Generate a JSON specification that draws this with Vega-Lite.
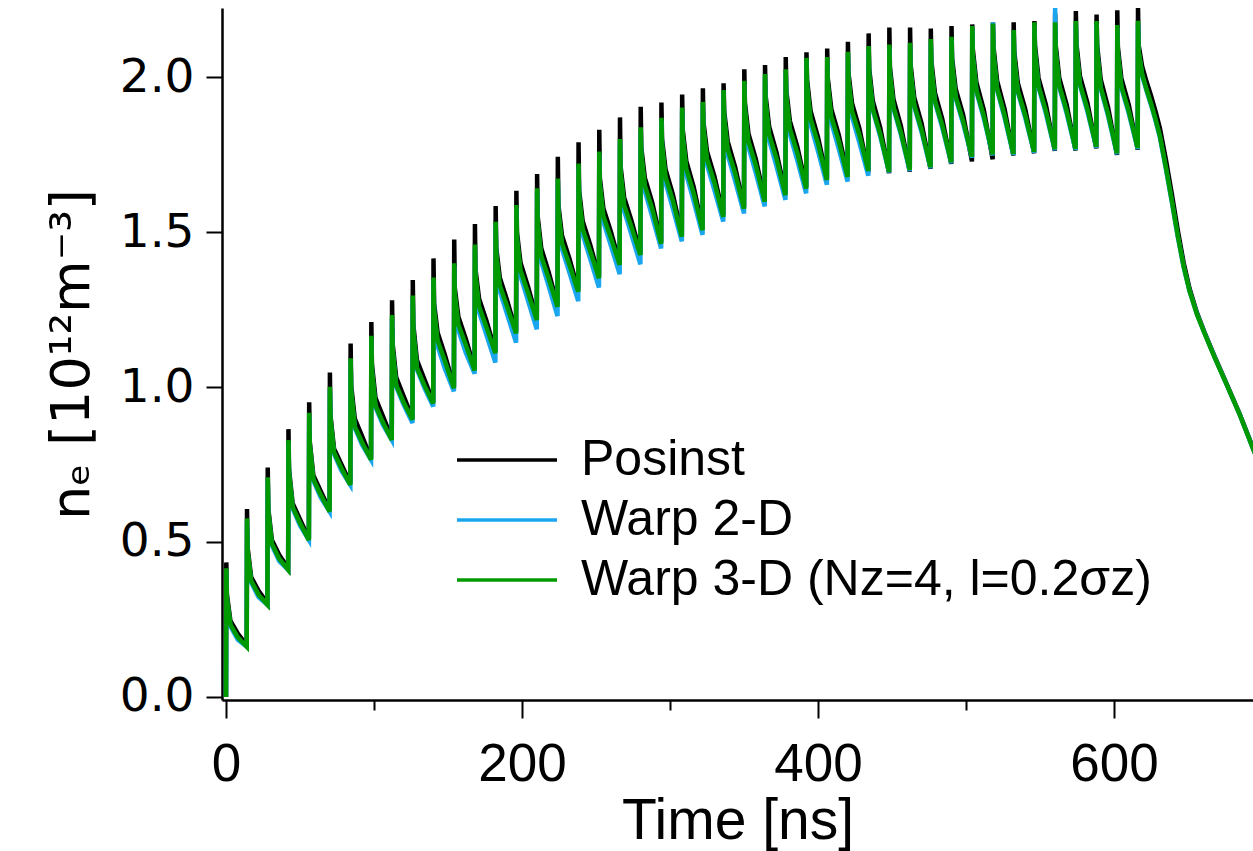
{
  "$schema": "https://vega.github.io/schema/vega-lite/v6.json",
  "width": 1031,
  "height": 692,
  "autosize": {"type": "none"},
  "padding": {"left": 222, "top": 8, "right": 0, "bottom": 151},
  "background": "white",
  "config": {"view": {"stroke": null}},
  "data": {"values": [
    {"t":0,"P":0,"W2":0,"W3":0},
    {"t":0.2,"P":0.434,"W2":0.405,"W3":0.415},
    {"t":0.6,"P":0.331,"W2":0.314,"W3":0.319},
    {"t":3,"P":0.245,"W2":0.228,"W3":0.233},
    {"t":8,"P":0.204,"W2":0.184,"W3":0.192},
    {"t":14,"P":0.167,"W2":0.162,"W3":0.162},
    {"t":14.2,"P":0.606,"W2":0.566,"W3":0.576},
    {"t":14.6,"P":0.482,"W2":0.465,"W3":0.470},
    {"t":17,"P":0.387,"W2":0.370,"W3":0.375},
    {"t":22,"P":0.342,"W2":0.322,"W3":0.330},
    {"t":28,"P":0.302,"W2":0.297,"W3":0.297},
    {"t":28.2,"P":0.740,"W2":0.699,"W3":0.709},
    {"t":28.6,"P":0.607,"W2":0.590,"W3":0.595},
    {"t":31,"P":0.506,"W2":0.489,"W3":0.494},
    {"t":36,"P":0.458,"W2":0.438,"W3":0.446},
    {"t":42,"P":0.415,"W2":0.410,"W3":0.410},
    {"t":42.2,"P":0.864,"W2":0.819,"W3":0.829},
    {"t":42.6,"P":0.734,"W2":0.717,"W3":0.722},
    {"t":45,"P":0.625,"W2":0.608,"W3":0.613},
    {"t":50,"P":0.573,"W2":0.553,"W3":0.561},
    {"t":56,"P":0.511,"W2":0.506,"W3":0.506},
    {"t":56.2,"P":0.951,"W2":0.907,"W3":0.917},
    {"t":56.6,"P":0.824,"W2":0.807,"W3":0.812},
    {"t":59,"P":0.715,"W2":0.698,"W3":0.703},
    {"t":64,"P":0.664,"W2":0.644,"W3":0.652},
    {"t":70,"P":0.603,"W2":0.598,"W3":0.598},
    {"t":70.2,"P":1.047,"W2":0.991,"W3":1.001},
    {"t":70.6,"P":0.908,"W2":0.891,"W3":0.896},
    {"t":73,"P":0.801,"W2":0.784,"W3":0.789},
    {"t":78,"P":0.750,"W2":0.730,"W3":0.738},
    {"t":84,"P":0.689,"W2":0.684,"W3":0.684},
    {"t":84.2,"P":1.140,"W2":1.083,"W3":1.093},
    {"t":84.6,"P":1.005,"W2":0.980,"W3":0.985},
    {"t":87,"P":0.898,"W2":0.868,"W3":0.873},
    {"t":92,"P":0.841,"W2":0.813,"W3":0.821},
    {"t":98,"P":0.770,"W2":0.765,"W3":0.765},
    {"t":98.2,"P":1.210,"W2":1.155,"W3":1.165},
    {"t":98.6,"P":1.074,"W2":1.049,"W3":1.054},
    {"t":101,"P":0.965,"W2":0.935,"W3":0.940},
    {"t":106,"P":0.906,"W2":0.878,"W3":0.886},
    {"t":112,"P":0.834,"W2":0.829,"W3":0.829},
    {"t":112.2,"P":1.280,"W2":1.222,"W3":1.232},
    {"t":112.6,"P":1.140,"W2":1.115,"W3":1.120},
    {"t":115,"P":1.031,"W2":1.001,"W3":1.006},
    {"t":120,"P":0.971,"W2":0.943,"W3":0.951},
    {"t":126,"P":0.899,"W2":0.884,"W3":0.894},
    {"t":126.2,"P":1.345,"W2":1.285,"W3":1.295},
    {"t":126.6,"P":1.200,"W2":1.175,"W3":1.180},
    {"t":129,"P":1.087,"W2":1.057,"W3":1.062},
    {"t":134,"P":1.026,"W2":0.998,"W3":1.006},
    {"t":140,"P":0.952,"W2":0.937,"W3":0.947},
    {"t":140.2,"P":1.415,"W2":1.343,"W3":1.353},
    {"t":140.6,"P":1.269,"W2":1.244,"W3":1.249},
    {"t":143,"P":1.175,"W2":1.132,"W3":1.150},
    {"t":148,"P":1.102,"W2":1.057,"W3":1.082},
    {"t":154,"P":1.001,"W2":0.986,"W3":0.996},
    {"t":154.2,"P":1.476,"W2":1.389,"W3":1.399},
    {"t":154.6,"P":1.319,"W2":1.294,"W3":1.299},
    {"t":157,"P":1.227,"W2":1.184,"W3":1.202},
    {"t":162,"P":1.156,"W2":1.111,"W3":1.136},
    {"t":168,"P":1.058,"W2":1.043,"W3":1.053},
    {"t":168.2,"P":1.526,"W2":1.450,"W3":1.460},
    {"t":168.6,"P":1.378,"W2":1.353,"W3":1.358},
    {"t":171,"P":1.285,"W2":1.242,"W3":1.260},
    {"t":176,"P":1.213,"W2":1.168,"W3":1.193},
    {"t":182,"P":1.114,"W2":1.079,"W3":1.109},
    {"t":182.2,"P":1.584,"W2":1.523,"W3":1.533},
    {"t":182.6,"P":1.449,"W2":1.424,"W3":1.429},
    {"t":185,"P":1.353,"W2":1.310,"W3":1.328},
    {"t":190,"P":1.279,"W2":1.234,"W3":1.259},
    {"t":196,"P":1.178,"W2":1.143,"W3":1.173},
    {"t":196.2,"P":1.633,"W2":1.577,"W3":1.587},
    {"t":196.6,"P":1.499,"W2":1.474,"W3":1.479},
    {"t":199,"P":1.401,"W2":1.358,"W3":1.376},
    {"t":204,"P":1.325,"W2":1.280,"W3":1.305},
    {"t":210,"P":1.221,"W2":1.186,"W3":1.216},
    {"t":210.2,"P":1.687,"W2":1.631,"W3":1.641},
    {"t":210.6,"P":1.550,"W2":1.525,"W3":1.530},
    {"t":213,"P":1.448,"W2":1.405,"W3":1.423},
    {"t":218,"P":1.371,"W2":1.326,"W3":1.351},
    {"t":224,"P":1.264,"W2":1.229,"W3":1.259},
    {"t":224.2,"P":1.743,"W2":1.663,"W3":1.673},
    {"t":224.6,"P":1.587,"W2":1.562,"W3":1.567},
    {"t":227,"P":1.489,"W2":1.446,"W3":1.464},
    {"t":232,"P":1.415,"W2":1.370,"W3":1.395},
    {"t":238,"P":1.312,"W2":1.277,"W3":1.307},
    {"t":238.2,"P":1.790,"W2":1.711,"W3":1.721},
    {"t":238.6,"P":1.634,"W2":1.609,"W3":1.614},
    {"t":241,"P":1.535,"W2":1.492,"W3":1.510},
    {"t":246,"P":1.460,"W2":1.415,"W3":1.440},
    {"t":252,"P":1.356,"W2":1.321,"W3":1.351},
    {"t":252.2,"P":1.830,"W2":1.750,"W3":1.760},
    {"t":252.6,"P":1.674,"W2":1.649,"W3":1.654},
    {"t":255,"P":1.576,"W2":1.533,"W3":1.551},
    {"t":260,"P":1.502,"W2":1.457,"W3":1.482},
    {"t":266,"P":1.399,"W2":1.364,"W3":1.394},
    {"t":266.2,"P":1.870,"W2":1.790,"W3":1.800},
    {"t":266.6,"P":1.712,"W2":1.687,"W3":1.692},
    {"t":269,"P":1.612,"W2":1.569,"W3":1.587},
    {"t":274,"P":1.536,"W2":1.491,"W3":1.516},
    {"t":280,"P":1.431,"W2":1.396,"W3":1.426},
    {"t":280.2,"P":1.904,"W2":1.828,"W3":1.838},
    {"t":280.6,"P":1.772,"W2":1.747,"W3":1.752},
    {"t":283,"P":1.675,"W2":1.632,"W3":1.650},
    {"t":288,"P":1.595,"W2":1.550,"W3":1.575},
    {"t":294,"P":1.467,"W2":1.447,"W3":1.462},
    {"t":294.2,"P":1.918,"W2":1.859,"W3":1.869},
    {"t":294.6,"P":1.801,"W2":1.776,"W3":1.781},
    {"t":297,"P":1.702,"W2":1.659,"W3":1.677},
    {"t":302,"P":1.620,"W2":1.575,"W3":1.600},
    {"t":308,"P":1.490,"W2":1.470,"W3":1.485},
    {"t":308.2,"P":1.944,"W2":1.892,"W3":1.902},
    {"t":308.6,"P":1.831,"W2":1.806,"W3":1.811},
    {"t":311,"P":1.729,"W2":1.686,"W3":1.704},
    {"t":316,"P":1.645,"W2":1.600,"W3":1.625},
    {"t":322,"P":1.511,"W2":1.491,"W3":1.506},
    {"t":322.2,"P":1.964,"W2":1.910,"W3":1.920},
    {"t":322.6,"P":1.855,"W2":1.830,"W3":1.835},
    {"t":325,"P":1.760,"W2":1.717,"W3":1.735},
    {"t":330,"P":1.680,"W2":1.635,"W3":1.660},
    {"t":336,"P":1.554,"W2":1.534,"W3":1.549},
    {"t":336.2,"P":1.980,"W2":1.948,"W3":1.958},
    {"t":336.6,"P":1.890,"W2":1.865,"W3":1.870},
    {"t":339,"P":1.792,"W2":1.749,"W3":1.767},
    {"t":344,"P":1.710,"W2":1.665,"W3":1.690},
    {"t":350,"P":1.580,"W2":1.560,"W3":1.575},
    {"t":350.2,"P":2.025,"W2":1.978,"W3":1.988},
    {"t":350.6,"P":1.918,"W2":1.893,"W3":1.898},
    {"t":353,"P":1.818,"W2":1.775,"W3":1.793},
    {"t":358,"P":1.735,"W2":1.690,"W3":1.715},
    {"t":364,"P":1.603,"W2":1.583,"W3":1.598},
    {"t":364.2,"P":2.039,"W2":2.000,"W3":2.010},
    {"t":364.6,"P":1.940,"W2":1.915,"W3":1.920},
    {"t":367,"P":1.840,"W2":1.797,"W3":1.815},
    {"t":372,"P":1.756,"W2":1.711,"W3":1.736},
    {"t":378,"P":1.624,"W2":1.604,"W3":1.619},
    {"t":378.2,"P":2.065,"W2":2.015,"W3":2.025},
    {"t":378.6,"P":1.956,"W2":1.931,"W3":1.936},
    {"t":381,"P":1.858,"W2":1.815,"W3":1.833},
    {"t":386,"P":1.776,"W2":1.731,"W3":1.756},
    {"t":392,"P":1.645,"W2":1.625,"W3":1.640},
    {"t":392.2,"P":2.080,"W2":2.052,"W3":2.062},
    {"t":392.6,"P":1.991,"W2":1.966,"W3":1.971},
    {"t":395,"P":1.890,"W2":1.847,"W3":1.865},
    {"t":400,"P":1.806,"W2":1.761,"W3":1.786},
    {"t":406,"P":1.673,"W2":1.653,"W3":1.668},
    {"t":406.2,"P":2.092,"W2":2.055,"W3":2.065},
    {"t":406.6,"P":1.996,"W2":1.971,"W3":1.976},
    {"t":409,"P":1.897,"W2":1.854,"W3":1.872},
    {"t":414,"P":1.814,"W2":1.769,"W3":1.794},
    {"t":420,"P":1.683,"W2":1.663,"W3":1.678},
    {"t":420.2,"P":2.114,"W2":2.072,"W3":2.082},
    {"t":420.6,"P":2.013,"W2":1.988,"W3":1.993},
    {"t":423,"P":1.915,"W2":1.872,"W3":1.890},
    {"t":428,"P":1.833,"W2":1.788,"W3":1.813},
    {"t":434,"P":1.692,"W2":1.682,"W3":1.697},
    {"t":434.2,"P":2.141,"W2":2.090,"W3":2.100},
    {"t":434.6,"P":2.027,"W2":2.002,"W3":2.007},
    {"t":437,"P":1.923,"W2":1.893,"W3":1.898},
    {"t":442,"P":1.837,"W2":1.809,"W3":1.817},
    {"t":448,"P":1.690,"W2":1.692,"W3":1.695},
    {"t":448.2,"P":2.160,"W2":2.095,"W3":2.105},
    {"t":448.6,"P":2.032,"W2":2.007,"W3":2.012},
    {"t":451,"P":1.928,"W2":1.898,"W3":1.903},
    {"t":456,"P":1.842,"W2":1.814,"W3":1.822},
    {"t":462,"P":1.695,"W2":1.697,"W3":1.700},
    {"t":462.2,"P":2.160,"W2":2.101,"W3":2.111},
    {"t":462.6,"P":2.039,"W2":2.014,"W3":2.019},
    {"t":465,"P":1.935,"W2":1.905,"W3":1.910},
    {"t":470,"P":1.850,"W2":1.822,"W3":1.830},
    {"t":476,"P":1.704,"W2":1.706,"W3":1.709},
    {"t":476.2,"P":2.157,"W2":2.113,"W3":2.123},
    {"t":476.6,"P":2.051,"W2":2.026,"W3":2.031},
    {"t":479,"P":1.949,"W2":1.919,"W3":1.924},
    {"t":484,"P":1.864,"W2":1.836,"W3":1.844},
    {"t":490,"P":1.720,"W2":1.722,"W3":1.725},
    {"t":490.2,"P":2.165,"W2":2.120,"W3":2.130},
    {"t":490.6,"P":2.061,"W2":2.036,"W3":2.041},
    {"t":493,"P":1.962,"W2":1.932,"W3":1.937},
    {"t":498,"P":1.879,"W2":1.851,"W3":1.859},
    {"t":504,"P":1.728,"W2":1.740,"W3":1.743},
    {"t":504.2,"P":2.170,"W2":2.155,"W3":2.165},
    {"t":504.6,"P":2.090,"W2":2.065,"W3":2.070},
    {"t":507,"P":1.983,"W2":1.953,"W3":1.958},
    {"t":512,"P":1.895,"W2":1.867,"W3":1.875},
    {"t":518,"P":1.735,"W2":1.747,"W3":1.750},
    {"t":518.2,"P":2.176,"W2":2.177,"W3":2.173},
    {"t":518.6,"P":2.096,"W2":2.071,"W3":2.076},
    {"t":521,"P":1.988,"W2":1.958,"W3":1.963},
    {"t":526,"P":1.898,"W2":1.870,"W3":1.878},
    {"t":532,"P":1.747,"W2":1.749,"W3":1.752},
    {"t":532.2,"P":2.177,"W2":2.142,"W3":2.152},
    {"t":532.6,"P":2.082,"W2":2.057,"W3":2.062},
    {"t":535,"P":1.981,"W2":1.951,"W3":1.956},
    {"t":540,"P":1.897,"W2":1.869,"W3":1.877},
    {"t":546,"P":1.754,"W2":1.756,"W3":1.759},
    {"t":546.2,"P":2.181,"W2":2.167,"W3":2.177},
    {"t":546.6,"P":2.103,"W2":2.078,"W3":2.083},
    {"t":549,"P":1.997,"W2":1.967,"W3":1.972},
    {"t":554,"P":1.910,"W2":1.882,"W3":1.890},
    {"t":560,"P":1.762,"W2":1.764,"W3":1.767},
    {"t":560.2,"P":2.205,"W2":2.227,"W3":2.177},
    {"t":560.6,"P":2.103,"W2":2.078,"W3":2.083},
    {"t":563,"P":1.998,"W2":1.968,"W3":1.973},
    {"t":568,"P":1.911,"W2":1.883,"W3":1.891},
    {"t":574,"P":1.763,"W2":1.765,"W3":1.768},
    {"t":574.2,"P":2.213,"W2":2.171,"W3":2.181},
    {"t":574.6,"P":2.108,"W2":2.083,"W3":2.088},
    {"t":577,"P":2.003,"W2":1.973,"W3":1.978},
    {"t":582,"P":1.917,"W2":1.889,"W3":1.897},
    {"t":588,"P":1.770,"W2":1.772,"W3":1.775},
    {"t":588.2,"P":2.202,"W2":2.171,"W3":2.181},
    {"t":588.6,"P":2.103,"W2":2.078,"W3":2.083},
    {"t":591,"P":1.993,"W2":1.963,"W3":1.968},
    {"t":596,"P":1.902,"W2":1.874,"W3":1.882},
    {"t":602,"P":1.749,"W2":1.751,"W3":1.754},
    {"t":602.2,"P":2.216,"W2":2.158,"W3":2.168},
    {"t":602.6,"P":2.097,"W2":2.072,"W3":2.077},
    {"t":605,"P":1.995,"W2":1.965,"W3":1.970},
    {"t":610,"P":1.910,"W2":1.882,"W3":1.890},
    {"t":616,"P":1.766,"W2":1.768,"W3":1.771},
    {"t":616.2,"P":2.229,"W2":2.172,"W3":2.182},
    {"t":616.6,"P":2.105,"W2":2.080,"W3":2.085},
    {"t":619,"P":2.035,"W2":2.005,"W3":2.010},
    {"t":622,"P":1.985,"W2":1.955,"W3":1.960},
    {"t":625,"P":1.940,"W2":1.910,"W3":1.915},
    {"t":628,"P":1.890,"W2":1.860,"W3":1.865},
    {"t":631,"P":1.835,"W2":1.805,"W3":1.810},
    {"t":635,"P":1.735,"W2":1.705,"W3":1.710},
    {"t":639,"P":1.625,"W2":1.598,"W3":1.603},
    {"t":643,"P":1.508,"W2":1.487,"W3":1.490},
    {"t":647,"P":1.402,"W2":1.388,"W3":1.390},
    {"t":651,"P":1.318,"W2":1.310,"W3":1.310},
    {"t":656,"P":1.240,"W2":1.236,"W3":1.235},
    {"t":661,"P":1.178,"W2":1.176,"W3":1.175},
    {"t":668,"P":1.098,"W2":1.096,"W3":1.095},
    {"t":675,"P":1.022,"W2":1.020,"W3":1.020},
    {"t":685,"P":0.912,"W2":0.910,"W3":0.910},
    {"t":694,"P":0.802,"W2":0.800,"W3":0.800},
    {"t":697,"P":0.767,"W2":0.765,"W3":0.765}
  ]},
  "transform": [{"fold": ["P", "W2", "W3"], "as": ["s", "n"]}],
  "mark": {"type": "line", "strokeWidth": 4.5, "clip": true},
  "encoding": {
    "x": {
      "field": "t", "type": "quantitative",
      "scale": {"domain": [-2.7, 693.9], "nice": false, "zero": false},
      "axis": {
        "title": "Time [ns]",
        "values": [0, 100, 200, 300, 400, 500, 600],
        "format": "d",
        "labelExpr": "datum.value % 200 === 0 ? datum.label : ''",
        "grid": false,
        "domainColor": "black", "domainWidth": 2.5,
        "tickColor": "black", "tickWidth": 2,
        "tickSize": {"condition": {"test": "datum.value % 200 === 0", "value": 18}, "value": 10},
        "labelFont": "Liberation Sans", "labelFontSize": 53, "labelColor": "black", "labelPadding": 20,
        "labelFlush": false,
        "titleFont": "Liberation Sans", "titleFontSize": 57, "titleFontWeight": "normal", "titleColor": "black",
        "titlePadding": 2
      }
    },
    "y": {
      "field": "n", "type": "quantitative",
      "scale": {"domain": [-0.01, 2.223], "nice": false, "zero": false},
      "axis": {
        "title": "nₑ [10¹²m⁻³]",
        "values": [0, 0.5, 1, 1.5, 2],
        "format": ".1f",
        "grid": false,
        "domainColor": "black", "domainWidth": 2.5,
        "tickColor": "black", "tickWidth": 2, "tickSize": 16,
        "labelFont": "DejaVu Sans", "labelFontSize": 47, "labelColor": "black", "labelPadding": 12,
        "labelFlush": false,
        "titleFont": "DejaVu Sans", "titleFontSize": 54, "titleFontWeight": "normal", "titleColor": "black",
        "titlePadding": 20
      }
    },
    "color": {
      "field": "s", "type": "nominal",
      "scale": {"domain": ["P", "W2", "W3"], "range": ["#000000", "#1aa6ee", "#009a00"]},
      "legend": {
        "orient": "none", "legendX": 258, "legendY": 425,
        "title": null,
        "symbolType": "M-2,0H2", "symbolSize": 2500, "symbolStrokeWidth": 3.5,
        "labelExpr": "datum.label == 'P' ? 'Posinst' : datum.label == 'W2' ? 'Warp 2-D' : 'Warp 3-D (Nz=4, l=0.2σz)'",
        "labelFont": "Liberation Sans", "labelFontSize": 50, "labelColor": "black",
        "labelLimit": 1000, "labelOffset": 47, "rowPadding": 8, "padding": 0
      }
    }
  }
}
